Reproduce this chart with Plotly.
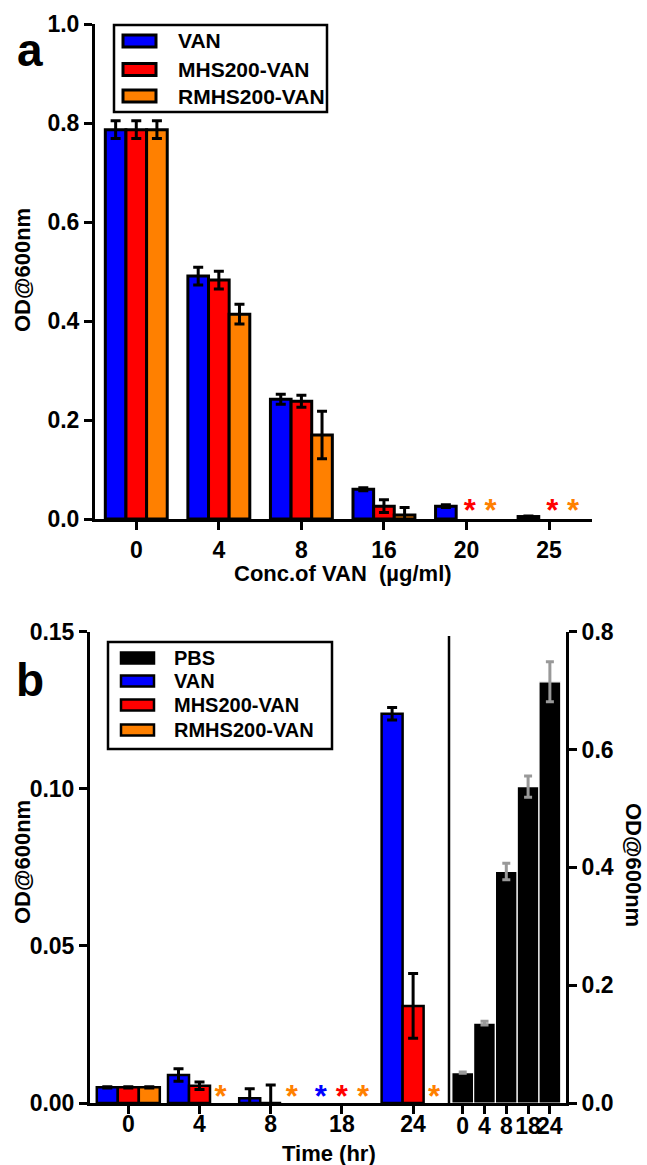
import plotly.graph_objects as go

# ---------------- data: panel a ----------------
conc_labels = ["0", "4", "8", "16", "20", "25"]
van_a = [0.787, 0.491, 0.242, 0.060, 0.026, 0.005]
van_a_err = [0.018, 0.018, 0.010, 0.003, 0.003, 0.001]
mhs_a = [0.787, 0.483, 0.238, 0.026, None, None]
mhs_a_err = [0.018, 0.018, 0.012, 0.013, 0, 0]
rmhs_a = [0.787, 0.414, 0.170, 0.008, None, None]
rmhs_a_err = [0.018, 0.020, 0.048, 0.015, 0, 0]
# significance asterisks (categories where no growth)
sig_mhs_a = ["20", "25"]
sig_rmhs_a = ["20", "25"]

# ---------------- data: panel b ----------------
time_labels = ["0", "4", "8", "18", "24"]
van_b = [0.005, 0.0089, 0.0015, None, 0.1239]
van_b_err = [0.0002, 0.002, 0.003, 0, 0.002]
mhs_b = [0.005, 0.0055, 0.0, None, 0.0309]
mhs_b_err = [0.0002, 0.0012, 0.0057, 0, 0.0103]
rmhs_b = [0.005, None, None, None, None]
rmhs_b_err = [0.0002, 0, 0, 0, 0]
pbs_b = [0.0515, 0.1356, 0.393, 0.537, 0.715]
pbs_b_err = [0.001, 0.003, 0.014, 0.018, 0.034]
sig_van_b = ["18"]
sig_mhs_b = ["18"]
sig_rmhs_b = ["4", "8", "18", "24"]

BLUE, RED, ORANGE = "#0000FF", "#FF0000", "#FF8000"
FONT = "Liberation Sans, Arial, sans-serif"
W, H = 647, 1165

def px_x(p):
    return p / W

def px_y(p):
    return 1 - p / H

fig = go.Figure()

# ---- panel a bars ----
wa = 0.25
series_a = [("VAN", van_a, van_a_err, BLUE),
            ("MHS200-VAN", mhs_a, mhs_a_err, RED),
            ("RMHS200-VAN", rmhs_a, rmhs_a_err, ORANGE)]
xa = list(range(len(conc_labels)))
for k, (name, vals, errs, col) in enumerate(series_a):
    fig.add_trace(go.Bar(
        x=xa, y=vals, name=name, width=wa, offset=-1.5 * wa + k * wa,
        marker=dict(color=col, line=dict(color="black", width=3)),
        error_y=dict(type="data", array=errs, color="black", thickness=3, width=5),
        xaxis="x", yaxis="y", showlegend=False))

def centre(idx, k, w):
    return idx + (k - 1) * w

for k, (sig, col) in enumerate([(sig_mhs_a, RED), (sig_rmhs_a, ORANGE)], start=1):
    fig.add_trace(go.Scatter(
        x=[centre(conc_labels.index(c), k, wa) + 0.04 for c in sig],
        y=[0.012] * len(sig), mode="text", text=["*"] * len(sig),
        textfont=dict(size=31, color=col, family=FONT, weight="bold"),
        showlegend=False, hoverinfo="skip", xaxis="x", yaxis="y"))

# ---- panel b right (PBS) ----
xb = list(range(len(time_labels)))
fig.add_trace(go.Bar(
    x=xb, y=pbs_b, name="PBS", width=1.0, offset=-0.5,
    marker=dict(color="black", line=dict(color="white", width=1.2)),
    error_y=dict(type="data", array=pbs_b_err, color="#999999", thickness=3, width=4),
    xaxis="x3", yaxis="y3", showlegend=False))

# ---- panel b left bars ----
wb = 0.295
series_b = [("VAN", van_b, van_b_err, BLUE),
            ("MHS200-VAN", mhs_b, mhs_b_err, RED),
            ("RMHS200-VAN", rmhs_b, rmhs_b_err, ORANGE)]
for k, (name, vals, errs, col) in enumerate(series_b):
    fig.add_trace(go.Bar(
        x=xb, y=vals, name=name, width=wb, offset=-1.5 * wb + k * wb,
        marker=dict(color=col, line=dict(color="black", width=2.5)),
        error_y=dict(type="data", array=errs, color="black", thickness=3, width=5),
        xaxis="x2", yaxis="y2", showlegend=False))

for k, (sig, col) in enumerate([(sig_van_b, BLUE), (sig_mhs_b, RED), (sig_rmhs_b, ORANGE)]):
    fig.add_trace(go.Scatter(
        x=[centre(time_labels.index(c), k, wb) for c in sig],
        y=[0.0012] * len(sig), mode="text", text=["*"] * len(sig),
        textfont=dict(size=31, color=col, family=FONT, weight="bold"),
        showlegend=False, hoverinfo="skip", xaxis="x2", yaxis="y2"))

tickfont = dict(size=23, color="black", family=FONT, weight="bold")
axis_common = dict(showline=True, linecolor="black", linewidth=3, ticks="outside",
                   ticklen=8, tickwidth=3, tickcolor="black", showgrid=False,
                   zeroline=False, tickfont=tickfont, fixedrange=True,
                   automargin=False, tickangle=0)

fig.update_layout(
    width=W, height=H, autosize=False,
    margin=dict(l=0, r=0, t=0, b=0, pad=0),
    paper_bgcolor="white", plot_bgcolor="white",
    barmode="overlay", showlegend=False,
    font=dict(family=FONT, color="black"),
    xaxis=dict(domain=[px_x(95), px_x(592)], range=[-0.5, 5.52], tickvals=xa,
               ticktext=conc_labels, anchor="y", **axis_common),
    yaxis=dict(domain=[px_y(519), px_y(24.3)], range=[0, 1.0], dtick=0.2,
               tickformat=".1f", anchor="x", **axis_common),
    xaxis2=dict(domain=[px_x(90), px_x(449)], range=[-0.538, 4.504], tickvals=xb,
                ticktext=time_labels, anchor="y2", ticklabelstandoff=-10, **axis_common),
    yaxis2=dict(domain=[px_y(1103), px_y(631.7)], range=[0, 0.15], dtick=0.05,
                tickformat=".2f", anchor="x2", **axis_common),
    xaxis3=dict(domain=[px_x(449), px_x(566)], range=[-0.63, 4.74], tickvals=xb,
                ticktext=time_labels, anchor="y3", ticklabelstandoff=-8, **axis_common),
    yaxis3=dict(domain=[px_y(1103), px_y(631.7)], range=[0, 0.8], dtick=0.2,
                tickformat=".1f", anchor="x3", side="right", **axis_common),
)

# divider between the two parts of panel b
fig.add_shape(type="line", xref="paper", yref="paper",
              x0=px_x(449), x1=px_x(449), y0=px_y(1103), y1=px_y(636),
              line=dict(color="black", width=2.5))

# ---- legends (boxed key, drawn in paper space) ----
legend_a = [(n, c) for n, _, _, c in series_a]
legend_b = [("PBS", "black")] + [(n, c) for n, _, _, c in series_b]

def draw_legend(entries, box, rows, sw_x, sw_h, text_x, fsize, sw_lw):
    x0, y0, x1, y1 = box
    fig.add_shape(type="rect", xref="paper", yref="paper",
                  x0=px_x(x0), x1=px_x(x1), y0=px_y(y1), y1=px_y(y0),
                  line=dict(color="black", width=2.5), fillcolor="white", layer="above")
    for (name, col), ry in zip(entries, rows):
        fig.add_shape(type="rect", xref="paper", yref="paper",
                      x0=px_x(sw_x[0]), x1=px_x(sw_x[1]),
                      y0=px_y(ry + sw_h / 2), y1=px_y(ry - sw_h / 2),
                      line=dict(color="black", width=sw_lw), fillcolor=col, layer="above")
        fig.add_annotation(xref="paper", yref="paper", showarrow=False,
                           x=px_x(text_x), y=px_y(ry), xanchor="left", yanchor="middle",
                           text=name, font=dict(size=fsize, family=FONT, weight="bold",
                                                color="black"))

draw_legend(legend_a, (114, 25, 327, 112), [41, 69.5, 96], (123, 156), 12, 176, 21, 3)
draw_legend(legend_b, (108, 642, 332, 749), [658, 681, 705, 730], (121, 154), 11, 172, 20, 2.5)

title_font = dict(size=22, family=FONT, weight="bold", color="black")
annots = [
    dict(text="a", x=px_x(30), y=px_y(50), font=dict(size=46, family=FONT, weight="bold")),
    dict(text="b", x=px_x(30), y=px_y(680), font=dict(size=46, family=FONT, weight="bold")),
    dict(text="OD@600nm", x=px_x(22), y=px_y(270), textangle=-90, font=title_font),
    dict(text="OD@600nm", x=px_x(22), y=px_y(862), textangle=-90, font=title_font),
    dict(text="OD@600nm", x=px_x(634), y=px_y(865), textangle=90, font=title_font),
    dict(text="Conc.of VAN  (\u00b5g/ml)", x=px_x(343), y=px_y(573), font=title_font),
    dict(text="Time (hr)", x=px_x(329), y=px_y(1153), font=title_font),
]
for a in annots:
    fig.add_annotation(xref="paper", yref="paper", showarrow=False,
                       xanchor="center", yanchor="middle", **a)

fig.write_html("out.html", config={"displayModeBar": False},
               post_script="document.body.style.margin='0';document.body.style.overflow='hidden';")
